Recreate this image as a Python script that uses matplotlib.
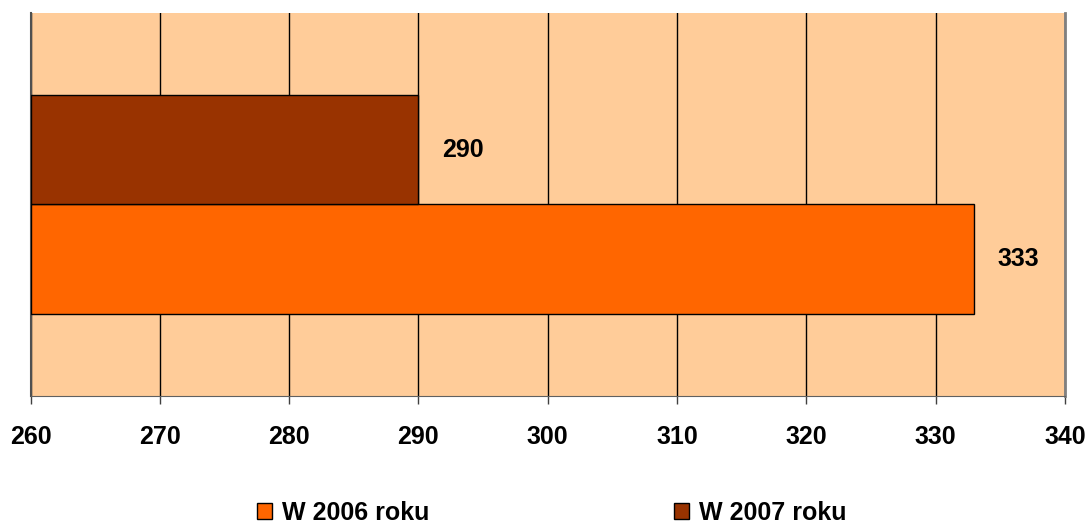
import matplotlib.pyplot as plt

# data
series = ["W 2006 roku", "W 2007 roku"]
values = [333, 290]
colors = ["#FF6600", "#993300"]
offsets = [-0.1425, 0.1425]
ticks = [260, 270, 280, 290, 300, 310, 320, 330, 340]

plt.rcParams['font.family'] = ['Liberation Sans', 'DejaVu Sans']
plt.rcParams['font.weight'] = 'bold'

fig = plt.figure(figsize=(10.9, 5.23), dpi=100)
ax = fig.add_axes([0.028, 0.243, 0.949, 0.732])
ax.set_facecolor("#FFCC99")

for name, val, col, off in zip(series, values, colors, offsets):
    ax.barh(off, val - 260, left=260, height=0.285, color=col,
            edgecolor="black", linewidth=1, label=name, zorder=3)
    ax.text(val + 1.8, off, str(val), ha="left", va="center",
            fontsize=18, fontweight="bold")

ax.set_xlim(260, 340)
ax.set_ylim(-0.5, 0.5)
ax.set_xticks(ticks)
ax.set_xticklabels([str(t) for t in ticks], fontsize=18, fontweight="bold")
ax.set_yticks([])
ax.tick_params(axis="x", length=6, width=1, color="#404040", pad=15)
ax.grid(axis="x", color="black", linewidth=1, zorder=1)

ax.spines["top"].set_visible(False)
ax.spines["bottom"].set_color("#606060")
ax.spines["left"].set_color("#505050")
ax.spines["left"].set_linewidth(1.5)
ax.spines["right"].set_color("#808080")
ax.spines["right"].set_linewidth(2)

handles, labels = ax.get_legend_handles_labels()
fig.legend(handles, labels, loc="center", bbox_to_anchor=(0.506, 0.02),
           ncol=2, frameon=False, handlelength=0.6,
           handleheight=0.6, handletextpad=0.4, columnspacing=9.8,
           prop={"weight": "bold", "size": 18})

fig.savefig("out.png", dpi=100)
